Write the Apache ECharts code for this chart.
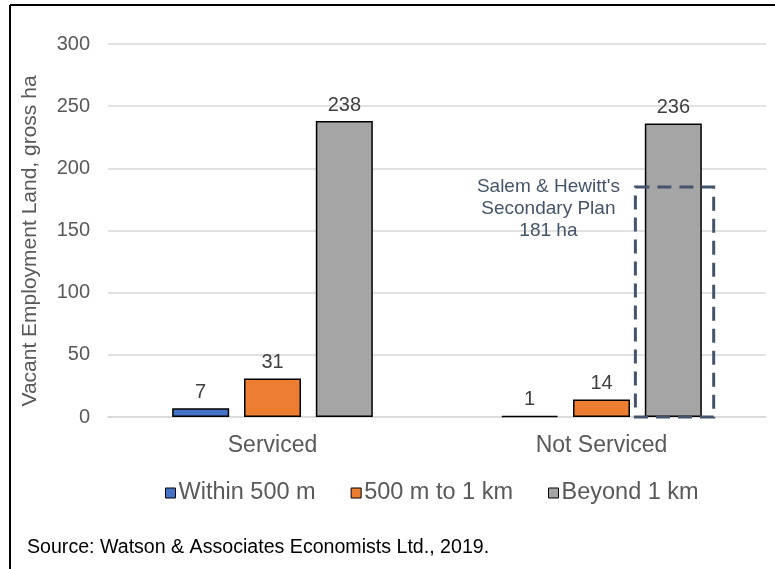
<!DOCTYPE html>
<html><head><meta charset="utf-8">
<script src="https://cdn.jsdelivr.net/npm/echarts@6/dist/echarts.min.js"></script>
<style>html,body{margin:0;padding:0;background:#fff}#c{width:775px;height:569px}</style>
</head><body><div id="c"></div>
<script>
var categories = ['Serviced', 'Not Serviced'];
var seriesNames = ['Within 500 m', '500 m to 1 km', 'Beyond 1 km'];
var within500 = [7, 1];
var m500to1km = [31, 14];
var beyond1km = [238, 236];
var planCategory = 'Not Serviced';
var planBoxTop = 185;
var planLabel = "Salem & Hewitt's\nSecondary Plan\n181 ha";
var yTicks = [0, 50, 100, 150, 200, 250, 300];
var colors = ['#4472C4', '#ED7D31', '#A5A5A5'];

var chart = echarts.init(document.getElementById('c'));
var F = 'Arial, "Liberation Sans", sans-serif';
function barSeries(name, data, color) {
  return {
    name: name, type: 'bar', data: data, barWidth: 57, barGap: '26%',
    itemStyle: { color: color, borderColor: '#000', borderWidth: 1.5 },
    label: { show: true, position: 'top', distance: 6, color: '#404040', fontSize: 20, fontFamily: F },
    z: 2
  };
}
var option = {
  animation: false,
  grid: { left: 108, right: 9, top: 44, bottom: 152, containLabel: false },
  legend: {
    data: seriesNames, top: 476, left: 160, itemWidth: 10, itemHeight: 10, itemGap: 35,
    textStyle: { fontSize: 23.5, color: '#595959', fontFamily: F, padding: [0, 0, 0, -2] },
    itemStyle: { borderColor: '#000', borderWidth: 1 }, icon: 'rect'
  },
  xAxis: {
    type: 'category', data: categories,
    axisLine: { lineStyle: { color: '#D9D9D9', width: 1.5 } },
    axisTick: { show: false },
    axisLabel: { fontSize: 23, color: '#595959', margin: 17, fontFamily: F }
  },
  yAxis: {
    type: 'value', min: yTicks[0], max: yTicks[yTicks.length - 1], interval: 50,
    axisLabel: { fontSize: 20, color: '#595959', margin: 18, fontFamily: F },
    splitLine: { lineStyle: { color: '#D9D9D9', width: 1.5 } },
    axisLine: { show: false }, axisTick: { show: false }
  },
  series: [
    barSeries(seriesNames[0], within500, colors[0]),
    barSeries(seriesNames[1], m500to1km, colors[1]),
    barSeries(seriesNames[2], beyond1km, colors[2]),
    {
      type: 'custom', name: 'plan', z: 5, silent: true,
      data: [[planCategory, planBoxTop]],
      renderItem: function (params, api) {
        var band = api.size([1, 0])[0];
        var top = api.coord([api.value(0), api.value(1)]);
        var base = api.coord([api.value(0), 0]);
        var cx = top[0] + band * 0.222;
        var hw = band * 0.119;
        return {
          type: 'group',
          children: [
            { type: 'rect', shape: { x: cx - hw, y: top[1], width: hw * 2, height: base[1] - top[1] },
              style: { fill: 'none', stroke: '#44546A', lineWidth: 3, lineDash: [14, 8] } },
            { type: 'text', x: cx - hw - 87, y: top[1] - 11,
              style: { text: planLabel, fill: '#44546A', font: '19px ' + F, align: 'center', verticalAlign: 'top', lineHeight: 22 } }
          ]
        };
      }
    }
  ],
  graphic: [
    { type: 'line', shape: { x1: 10, y1: 5, x2: 775, y2: 5 }, style: { stroke: '#000', lineWidth: 2 } },
    { type: 'line', shape: { x1: 10, y1: 5, x2: 10, y2: 569 }, style: { stroke: '#000', lineWidth: 2 } },
    { type: 'text', x: 30, y: 241, rotation: Math.PI / 2,
      style: { text: 'Vacant Employment Land, gross ha', fill: '#595959', font: '21px ' + F, align: 'center', verticalAlign: 'middle' } },
    { type: 'text', left: 27, top: 538, style: { text: 'Source: Watson & Associates Economists Ltd., 2019.', fill: '#000', font: '19.6px ' + F } }
  ]
};
chart.setOption(option);
</script></body></html>
